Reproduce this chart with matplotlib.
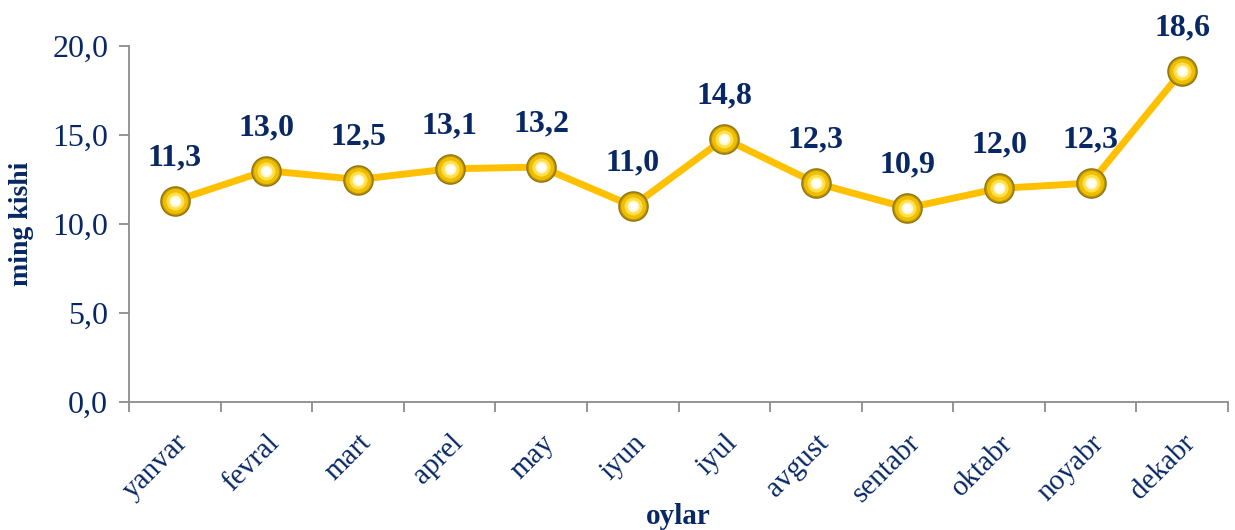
import numpy as np
import matplotlib.pyplot as plt

months = ['yanvar', 'fevral', 'mart', 'aprel', 'may', 'iyun', 'iyul',
          'avgust', 'sentabr', 'oktabr', 'noyabr', 'dekabr']
values = [11.3, 13.0, 12.5, 13.1, 13.2, 11.0, 14.8, 12.3, 10.9, 12.0, 12.3, 18.6]
yticks = [0, 5, 10, 15, 20]

navy = '#082865'
plt.rcParams['font.family'] = ['Liberation Serif', 'DejaVu Serif']

fig = plt.figure(figsize=(12.35, 5.3), dpi=100)
ax = fig.add_axes([129 / 1235, 128 / 530, 1099 / 1235, 356 / 530])

x = np.arange(len(months))
ax.plot(x, values, color='#FFC000', lw=5, zorder=2, solid_capstyle='round')
# layered markers to imitate the shaded balls
ax.plot(x, values, 'o', ms=21, mfc='#C29A00', mec='#8F7410', mew=1.0, zorder=3)
ax.plot(x, values, 'o', ms=18, mfc='#F0BE00', mec='none', zorder=4)
ax.plot(x, values, 'o', ms=13, mfc='#FFE04A', mec='none', zorder=5)
ax.plot(x, values, 'o', ms=8.5, mfc='#FFF8D0', mec='none', zorder=6)
ax.plot(x, values, 'o', ms=5.5, mfc='white', mec='none', zorder=7)

for xi, v in zip(x, values):
    ax.annotate(f'{v:.1f}'.replace('.', ','), (xi, v), xytext=(0, 31),
                textcoords='offset points', ha='center', va='center',
                fontsize=23, fontweight='bold', color=navy)

ax.set_xlim(-0.5, len(months) - 0.5)
ax.set_ylim(0, 20)
ax.set_yticks(yticks)
ax.set_yticklabels([f'{t:.1f}'.replace('.', ',') for t in yticks])
ax.set_xticks(np.arange(len(months) + 1) - 0.5)
ax.set_xticklabels([])
ax.set_xticks(x, minor=True)
ax.set_xticklabels(months, minor=True, rotation=45, ha='right',
                   rotation_mode='anchor', fontsize=21, color=navy)

for s in ['top', 'right']:
    ax.spines[s].set_visible(False)
for s in ['left', 'bottom']:
    ax.spines[s].set_color('#8C8C8C')
    ax.spines[s].set_linewidth(1.3)
ax.tick_params(axis='y', which='major', direction='out', length=7, width=1.3,
               color='#8C8C8C', labelsize=23, labelcolor=navy, pad=8)
ax.tick_params(axis='x', which='major', direction='out', length=7, width=1.3,
               color='#8C8C8C')
ax.tick_params(axis='x', which='minor', length=0, pad=20)

ax.set_ylabel('ming kishi', fontsize=20, fontweight='bold', color=navy, labelpad=13)
ax.set_xlabel('oylar', fontsize=21, fontweight='bold', color=navy, labelpad=-3)

fig.savefig('out.png', dpi=100)
